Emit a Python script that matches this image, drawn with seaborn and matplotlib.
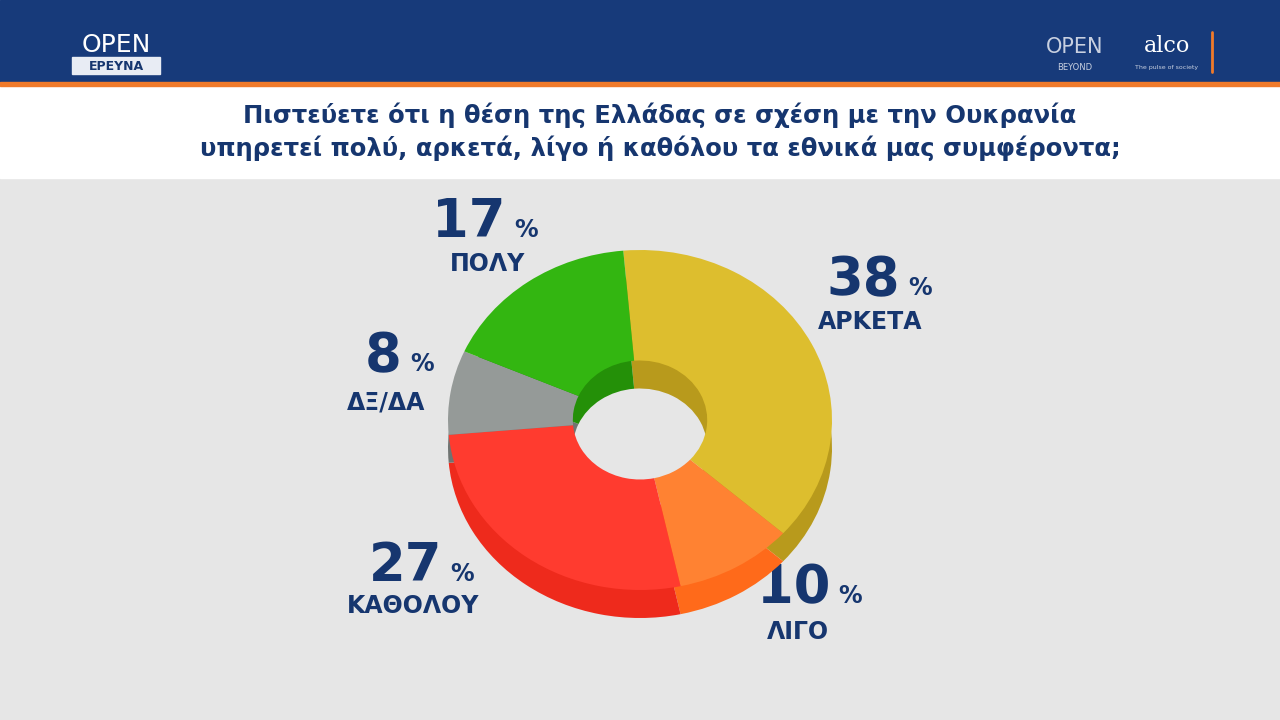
import matplotlib
matplotlib.use("Agg")
import matplotlib.pyplot as plt
import seaborn as sns
from matplotlib.patches import Rectangle

sns.set_theme(style="white")
plt.rcParams['font.family'] = ['DejaVu Sans']

labels = ["ΑΡΚΕΤΑ", "ΛΙΓΟ", "ΚΑΘΟΛΟΥ", "ΔΞ/ΔΑ", "ΠΟΛΥ"]
values = [38, 10, 27, 8, 17]
colors = ["#DDBE2E", "#FF8232", "#FF3B2F", "#959A98", "#33B611"]
side_colors = ["#B89A1C", "#FF6A1A", "#EE2A1C", "#707472", "#249008"]
title = ("Πιστεύετε ότι η θέση της Ελλάδας σε σχέση με την Ουκρανία\n"
         "υπηρετεί πολύ, αρκετά, λίγο ή καθόλου τα εθνικά μας συμφέροντα;")

navy = "#16366F"
fig = plt.figure(figsize=(12.8, 7.2), dpi=100)
bg = fig.add_axes([0, 0, 1, 1])
bg.set_xlim(0, 1280); bg.set_ylim(720, 0); bg.axis("off")
bg.add_patch(Rectangle((0, 178), 1280, 542, color="#E6E6E6"))
bg.add_patch(Rectangle((0, 86), 1280, 92, color="white"))
bg.add_patch(Rectangle((0, 0), 1280, 82, color="#173A7A"))
bg.add_patch(Rectangle((0, 82), 1280, 4, color="#F07A2A"))
bg.text(116, 45, "OPEN", color="white", fontsize=18, ha="center", va="center")
bg.add_patch(Rectangle((72, 57), 88, 17, color="#E8ECF4"))
bg.text(116, 66, "ΕΡΕΥΝΑ", color=navy, fontsize=9, weight="bold", ha="center", va="center")
bg.text(1075, 47, "OPEN", color="#C8D0E0", fontsize=15, ha="center", va="center")
bg.text(1075, 67, "BEYOND", color="#C8D0E0", fontsize=6, ha="center", va="center")
bg.text(1167, 46, "alco", color="white", fontsize=16, family="DejaVu Serif", ha="center", va="center")
bg.text(1167, 68, "The pulse of society", color="#C8D0E0", fontsize=4.5, ha="center", va="center")
bg.plot([1212, 1212], [32, 72], color="#F07A2A", lw=2)
bg.text(660, 132, title, color=navy, fontsize=17.5, weight="bold", ha="center",
        va="center", linespacing=1.35)

def pie_axes(top):
    ax = fig.add_axes([448 / 1280, 1 - (top + 340) / 720, 384 / 1280, 340 / 720])
    return ax

side = pie_axes(278)
side.pie(values, colors=side_colors, startangle=95, counterclock=False, radius=1,
         wedgeprops=dict(width=0.65, linewidth=0))
top = pie_axes(250)
top.pie(values, colors=colors, startangle=95, counterclock=False, radius=1,
        wedgeprops=dict(width=0.65, linewidth=0))
for a in (side, top):
    a.set_aspect("auto"); a.set_xlim(-1, 1); a.set_ylim(-1, 1); a.axis("off")

# (right edge of number, number y, label centre x, label y)
pos = [(900, 280, 870, 322), (830, 588, 798, 632), (442, 566, 413, 606),
       (402, 356, 386, 402), (506, 222, 488, 264)]
for (px, py, lx, ly), v, lab in zip(pos, values, labels):
    bg.text(px, py, f"{v}", color=navy, fontsize=38, weight="bold", ha="right", va="center")
    bg.text(px + 8, py + 8, "%", color=navy, fontsize=17, weight="bold", ha="left", va="center")
    bg.text(lx, ly, lab, color=navy, fontsize=17, weight="bold", ha="center", va="center")

fig.savefig("out.png", dpi=100)
